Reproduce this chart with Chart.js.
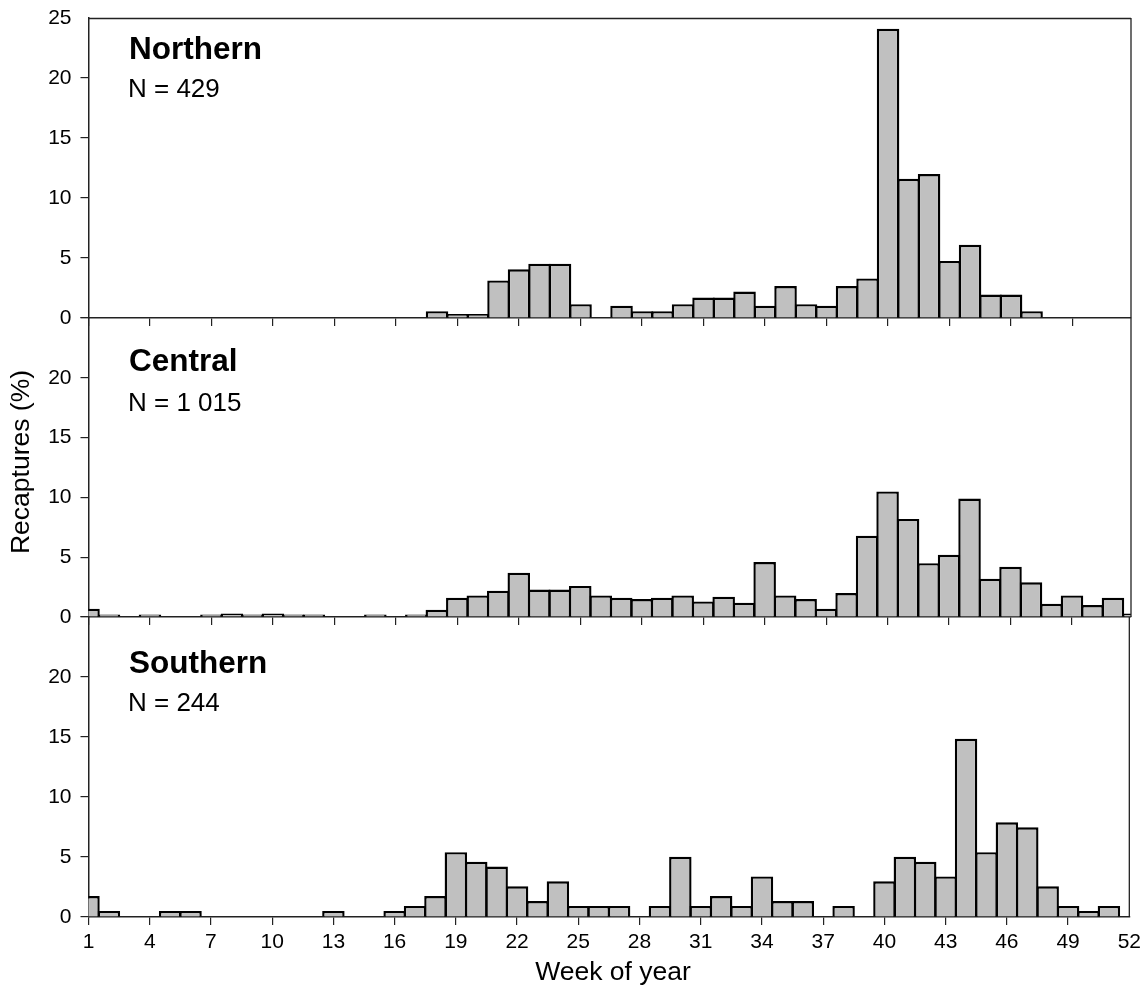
<!DOCTYPE html>
<html>
<head>
<meta charset="utf-8">
<script src="https://cdn.jsdelivr.net/npm/chart.js@4"></script>
<style>
html,body{margin:0;padding:0;background:#fff;overflow:hidden}
#wrap{position:relative;width:1146px;height:985px}
canvas{position:absolute;left:0}
</style>
</head>
<body>
<div id="wrap">
<canvas id="c1" style="top:0"></canvas>
<canvas id="c2" style="top:300px"></canvas>
<canvas id="c3" style="top:600px"></canvas>
</div>
<script>
const weeks = Array.from({length:52},(_,i)=>i+1);
const xTickStep = 3;
const yTickStep = 5;
const yMax = 25;
const northern = [null,null,null,null,null,null,null,null,null,null,null,null,null,null,null,null,null,0.57,0.33,0.33,3.13,4.06,4.53,4.53,1.15,null,1.03,0.57,0.57,1.15,1.7,1.7,2.2,1.03,2.66,1.15,1.03,2.66,3.3,24.1,11.6,12.0,4.76,6.1,1.96,1.96,0.57,null,null,null,null,null];
const central = [0.7,0.2,null,0.2,null,null,0.2,0.3,0.2,0.3,0.2,0.2,null,null,0.2,null,0.2,0.6,1.6,1.8,2.2,3.7,2.3,2.3,2.6,1.8,1.6,1.5,1.6,1.8,1.3,1.7,1.2,4.6,1.8,1.5,0.7,2.0,6.8,10.5,8.2,4.5,5.2,9.9,3.2,4.2,2.9,1.1,1.8,1.0,1.6,0.3];
const southern = [1.74,0.51,null,null,0.51,0.51,null,null,null,null,null,null,0.51,null,null,0.51,0.92,1.74,5.4,4.6,4.2,2.56,1.33,2.97,0.92,0.92,0.92,null,0.92,5.02,0.92,1.74,0.92,3.38,1.33,1.33,null,0.92,null,2.97,5.02,4.6,3.38,14.85,5.4,7.89,7.48,2.56,0.92,0.51,0.92,null];
const panelNames = ["Northern","Central","Southern"];
const panelCounts = ["N = 429","N = 1 015","N = 244"];
const yAxisLabel = "Recaptures (%)";
const xAxisLabel = "Week of year";

const FONT = '"Liberation Sans", Arial, sans-serif';
const INK = '#000';
const AXIS = '#222';

function makePanel(id, values, idx, cfg){
  const cv = document.getElementById(id);
  cv.width = 1146; cv.height = cfg.h;
  cv.style.width = '1146px'; cv.style.height = cfg.h + 'px';
  const frame = {
    id:'frame',
    afterDatasetsDraw(chart){
      const {ctx, chartArea:a} = chart;
      ctx.save();
      ctx.strokeStyle = AXIS; ctx.lineWidth = 1.3;
      ctx.beginPath();
      if(idx===0){ ctx.moveTo(a.left,a.top+0.5); ctx.lineTo(a.right,a.top+0.5); }
      ctx.moveTo(a.right,a.top); ctx.lineTo(a.right,a.bottom);
      ctx.stroke();
      ctx.fillStyle = '#000';
      ctx.textBaseline = 'alphabetic'; ctx.textAlign = 'left';
      ctx.font = 'bold 31.5px ' + FONT;
      ctx.fillText(panelNames[idx], 129, cfg.nameY);
      ctx.font = '26px ' + FONT;
      ctx.fillText(panelCounts[idx], 128, cfg.countY);
      if(idx===2){
        ctx.textAlign = 'center';
        ctx.font = '26.5px ' + FONT;
        ctx.fillText(xAxisLabel, 613, 380);
      }
      if(idx===1){
        ctx.translate(29, 162);
        ctx.rotate(-Math.PI/2);
        ctx.textAlign = 'center';
        ctx.font = '26.5px ' + FONT;
        ctx.fillText(yAxisLabel, 0, 0);
      }
      ctx.restore();
    }
  };
  return new Chart(cv, {
    type:'bar',
    data:{ datasets:[{
      data: weeks.map((w,i)=>({x:w,y:values[i]})),
      backgroundColor:'#c0c0c0',
      borderColor:'#000',
      borderWidth:2.4,
      borderSkipped:'start',
      barPercentage:1.1,
      categoryPercentage:1
    }]},
    options:{
      responsive:false, animation:false, devicePixelRatio:1,
      events:[],
      layout:{padding:{left:0,right:15,top:cfg.top,bottom:0}},
      plugins:{legend:{display:false},title:{display:false},tooltip:{enabled:false}},
      scales:{
        x:{
          type:'linear', min:1, max:cfg.xMax, offset:false,
          afterFit(s){ s.height = cfg.xh; },
          afterBuildTicks(s){ s.ticks = weeks.filter(w=>(w-1)%xTickStep===0 && w<=s.max).map(v=>({value:v})); },
          ticks:{display:idx===2, autoSkip:false, maxRotation:0, minRotation:0, padding:5,
                 color:INK, font:{family:FONT,size:21}, callback:v=>String(v)},
          grid:{offset:false, drawOnChartArea:false, drawTicks:true, tickLength:8, lineWidth:1.2,
                color:c=> (c.tick && c.tick.value===52 && idx===2) ? 'rgba(0,0,0,0)' : AXIS},
          border:{display:true,color:AXIS,width:1.5}
        },
        y:{
          type:'linear', min:0, max:yMax,
          afterFit(s){ s.width = 88.5; s.paddingTop = 0; s.paddingBottom = 0; },
          ticks:{stepSize:yTickStep, padding:9, color:INK, font:{family:FONT,size:21},
                 callback:v=> (v===yMax && idx>0) ? '' : String(v)},
          grid:{drawOnChartArea:false, drawTicks:true, tickLength:8, lineWidth:1.2,
                color:c=> (c.tick && c.tick.value===yMax && idx===0) ? 'rgba(0,0,0,0)' : AXIS},
          border:{display:true,color:AXIS,width:1.5}
        }
      }
    },
    plugins:[frame]
  });
}
makePanel('c1', northern, 0, {h:340, top:18, xh:22, nameY:59, countY:97, xMax:51.85});
makePanel('c2', central, 1, {h:340, top:18, xh:23, nameY:71, countY:111, xMax:51.88});
makePanel('c3', southern, 2, {h:385, top:17, xh:68, nameY:73, countY:111, xMax:52});
</script>
</body>
</html>
